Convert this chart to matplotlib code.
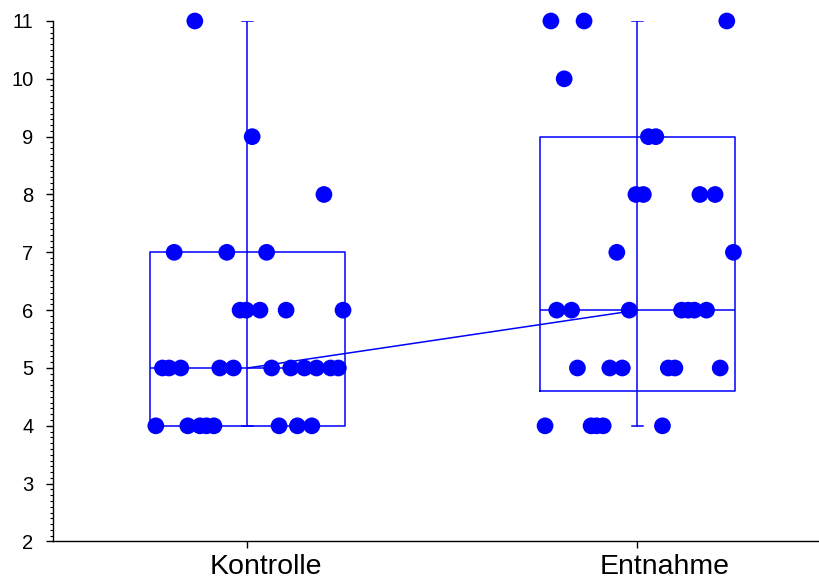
import matplotlib
matplotlib.use("Agg")
import matplotlib.pyplot as plt
import matplotlib.transforms as mtransforms
from matplotlib.ticker import MultipleLocator

plt.rcParams['font.family'] = ['Liberation Sans', 'DejaVu Sans']

# Groups
categories = ["Kontrolle", "Entnahme"]

# Observed values per group
kontrolle_values = [11, 9, 8,
                    7, 7, 7,
                    6, 6, 6, 6, 6,
                    5, 5, 5, 5, 5, 5, 5, 5, 5, 5, 5,
                    4, 4, 4, 4, 4, 4, 4, 4]
kontrolle_jitter = [-0.135, 0.012, 0.196,
                    -0.188, -0.053, 0.049,
                    -0.019, -0.003, 0.032, 0.099, 0.245,
                    -0.218, -0.201, -0.171, -0.071, -0.036, 0.062, 0.111, 0.146, 0.177, 0.213, 0.233,
                    -0.235, -0.153, -0.122, -0.105, -0.086, 0.081, 0.128, 0.165]

entnahme_values = [11, 11, 11,
                   10,
                   9, 9,
                   8, 8, 8, 8,
                   7, 7,
                   6, 6, 6, 6, 6, 6, 6,
                   5, 5, 5, 5, 5, 5,
                   4, 4, 4, 4, 4]
entnahme_jitter = [-0.222, -0.137, 0.229,
                   -0.188,
                   0.028, 0.047,
                   -0.004, 0.015, 0.160, 0.199,
                   -0.053, 0.246,
                   -0.207, -0.169, -0.021, 0.113, 0.130, 0.146, 0.177,
                   -0.154, -0.071, -0.039, 0.079, 0.096, 0.212,
                   -0.237, -0.119, -0.105, -0.088, 0.064]

# Box summary per group
q1 = [4, 4.6]
median = [5, 6]
q3 = [7, 9]
whisker_low = [4, 4]
whisker_high = [11, 11]

blue = "#0000ff"
positions = [1, 2]

fig = plt.figure(figsize=(8.19, 5.80), dpi=100)
ax = fig.add_axes([0.0647, 0.0664, 0.9353, 0.8974])

stats = []
for i, name in enumerate(categories):
    stats.append(dict(label=name, med=median[i], q1=q1[i], q3=q3[i],
                      whislo=whisker_low[i], whishi=whisker_high[i]))

line_kw = dict(color=blue, linewidth=1.1)
ax.bxp(stats, positions=positions, widths=0.5, capwidths=0.03,
       showfliers=False, boxprops=line_kw, whiskerprops=line_kw,
       capprops=line_kw, medianprops=line_kw, manage_ticks=False, zorder=2)
# whisker line continues through the box
ax.vlines(positions, q1, q3, color=blue, linewidth=1.1, zorder=2)

# line joining the medians
ax.plot(positions, median, color=blue, linewidth=1.1, zorder=2)

groups = [(kontrolle_values, kontrolle_jitter), (entnahme_values, entnahme_jitter)]
for pos, (vals, jit) in zip(positions, groups):
    xs = [pos + j for j in jit]
    ax.scatter(xs, vals, s=145, color=blue, edgecolors='none', zorder=3, clip_on=False)

ax.set_xlim(0.5013, 2.4654)
ax.set_ylim(2, 11)

ax.spines['top'].set_visible(False)
ax.spines['right'].set_visible(False)
for sp in ('left', 'bottom'):
    ax.spines[sp].set_linewidth(1.0)
    ax.spines[sp].set_color('black')

ax.yaxis.set_major_locator(MultipleLocator(1))
ax.yaxis.set_minor_locator(MultipleLocator(0.1))
ax.tick_params(axis='y', which='major', direction='out', length=5, width=1.0,
               labelsize=14.5, pad=9)
ax.tick_params(axis='y', which='minor', direction='out', length=2.5, width=0.8)

ax.set_xticks(positions)
ax.set_xticklabels(categories, ha='left')
ax.tick_params(axis='x', which='major', direction='out', length=5, width=1.0,
               labelsize=20.5, pad=4)
shift = mtransforms.ScaledTranslation(-0.38, 0, fig.dpi_scale_trans)
for lbl in ax.get_xticklabels():
    lbl.set_transform(lbl.get_transform() + shift)

fig.savefig("out.png", dpi=100)
